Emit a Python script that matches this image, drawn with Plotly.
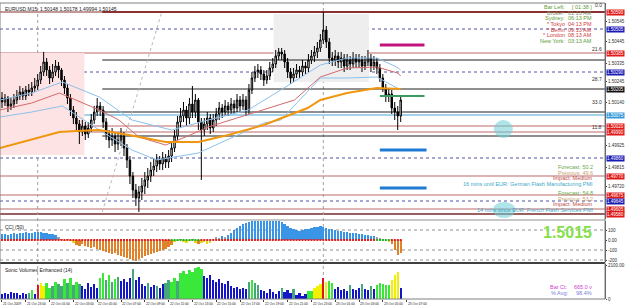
import plotly.graph_objects as go

# ---------------- DATA ----------------
x_labels = ["21 Oct 2009", "21 Oct 23:00", "22 Oct 01:00", "22 Oct 03:00", "22 Oct 05:00",
            "22 Oct 07:00", "22 Oct 09:00", "22 Oct 11:00", "22 Oct 13:00", "22 Oct 15:00",
            "22 Oct 17:00", "22 Oct 19:00", "22 Oct 21:00", "22 Oct 23:00", "23 Oct 01:00",
            "23 Oct 03:00", "23 Oct 05:00", "23 Oct 07:00"]

price_ticks = [1.50545, 1.50445, 1.50335, 1.50245, 1.50140, 1.49925, 1.49815, 1.49720]

open_ = [1.5016,1.5014,1.5016,1.5012,1.5013,1.5015,1.5017,1.5019,1.5017,1.5020,
         1.5019,1.5021,1.5022,1.5025,1.5029,1.5034,1.5030,1.5026,1.5029,1.5032,
         1.5030,1.5025,1.5021,1.5016,1.5010,1.5006,1.5003,1.4999,1.5002,1.4998,
         1.5001,1.5005,1.5009,1.5012,1.5010,1.5004,1.4998,1.4995,1.4997,1.4993,
         1.4995,1.4997,1.4991,1.4985,1.4977,1.4970,1.4966,1.4969,1.4972,1.4975,
         1.4977,1.4980,1.4982,1.4985,1.4983,1.4986,1.4984,1.4987,1.4991,1.4997,
         1.5004,1.5007,1.5010,1.5006,1.5013,1.5009,1.5015,1.5004,1.5000,1.5003,
         1.5006,1.5001,1.5005,1.5008,1.5011,1.5009,1.5012,1.5010,1.5013,1.5011,
         1.5015,1.5012,1.5015,1.5010,1.5020,1.5026,1.5029,1.5030,1.5028,1.5025,
         1.5027,1.5031,1.5033,1.5037,1.5039,1.5038,1.5034,1.5029,1.5026,1.5028,
         1.5030,1.5029,1.5032,1.5031,1.5035,1.5037,1.5039,1.5041,1.5045,1.5050,
         1.5044,1.5036,1.5035,1.5037,1.5034,1.5036,1.5032,1.5035,1.5033,1.5036,
         1.5034,1.5035,1.5032,1.5034,1.5036,1.5032,1.5034,1.5031,1.5026,1.5021,
         1.5017,1.5018,1.5011,1.5009,1.5007]
close = [1.5014,1.5016,1.5012,1.5013,1.5015,1.5017,1.5019,1.5017,1.5020,1.5019,
         1.5021,1.5022,1.5025,1.5029,1.5034,1.5030,1.5026,1.5029,1.5032,1.5030,
         1.5025,1.5021,1.5016,1.5010,1.5006,1.5003,1.4999,1.5002,1.4998,1.5001,
         1.5005,1.5009,1.5012,1.5010,1.5004,1.4998,1.4995,1.4997,1.4993,1.4995,
         1.4997,1.4991,1.4985,1.4977,1.4970,1.4966,1.4969,1.4972,1.4975,1.4977,
         1.4980,1.4982,1.4985,1.4983,1.4986,1.4984,1.4987,1.4991,1.4997,1.5004,
         1.5007,1.5010,1.5006,1.5013,1.5009,1.5015,1.5004,1.5000,1.5003,1.5006,
         1.5001,1.5005,1.5008,1.5011,1.5009,1.5012,1.5010,1.5013,1.5011,1.5015,
         1.5012,1.5015,1.5010,1.5020,1.5026,1.5029,1.5030,1.5028,1.5025,1.5027,
         1.5031,1.5033,1.5037,1.5039,1.5038,1.5034,1.5029,1.5026,1.5028,1.5030,
         1.5029,1.5032,1.5031,1.5035,1.5037,1.5039,1.5041,1.5045,1.5050,1.5044,
         1.5036,1.5035,1.5037,1.5034,1.5036,1.5032,1.5035,1.5033,1.5036,1.5034,
         1.5035,1.5032,1.5034,1.5036,1.5032,1.5034,1.5031,1.5026,1.5021,1.5017,
         1.5018,1.5011,1.5009,1.5007,1.5015]
high = [1.5019,1.5018,1.5017,1.5016,1.5018,1.5020,1.5022,1.5021,1.5022,1.5023,
        1.5024,1.5026,1.5028,1.5032,1.5039,1.5036,1.5032,1.5033,1.5035,1.5034,
        1.5031,1.5027,1.5023,1.5018,1.5012,1.5009,1.5005,1.5005,1.5004,1.5004,
        1.5008,1.5012,1.5016,1.5014,1.5012,1.5006,1.5000,1.5001,1.4999,1.4999,
        1.5001,1.4999,1.4993,1.4987,1.4979,1.4973,1.4972,1.4976,1.4979,1.4981,
        1.4984,1.4986,1.4988,1.4987,1.4989,1.4988,1.4990,1.4994,1.5000,1.5007,
        1.5011,1.5014,1.5012,1.5016,1.5022,1.5018,1.5016,1.5006,1.5006,1.5009,
        1.5008,1.5008,1.5011,1.5014,1.5013,1.5015,1.5014,1.5016,1.5015,1.5018,
        1.5017,1.5018,1.5017,1.5023,1.5029,1.5032,1.5033,1.5032,1.5030,1.5030,
        1.5034,1.5036,1.5040,1.5041,1.5041,1.5040,1.5036,1.5031,1.5031,1.5033,
        1.5032,1.5035,1.5034,1.5038,1.5040,1.5042,1.5044,1.5048,1.5059,1.5052,
        1.5046,1.5039,1.5040,1.5039,1.5039,1.5038,1.5038,1.5037,1.5039,1.5038,
        1.5038,1.5037,1.5037,1.5040,1.5038,1.5037,1.5036,1.5033,1.5028,1.5023,
        1.5021,1.5020,1.5014,1.5012,1.5017]
low = [1.5011,1.5012,1.5009,1.5010,1.5011,1.5013,1.5015,1.5015,1.5015,1.5017,
       1.5017,1.5019,1.5020,1.5023,1.5027,1.5027,1.5023,1.5024,1.5027,1.5026,
       1.5022,1.5018,1.5013,1.5007,1.5003,1.5000,1.4993,1.4997,1.4995,1.4996,
       1.4999,1.5003,1.5007,1.5007,1.5001,1.4995,1.4991,1.4992,1.4989,1.4990,
       1.4992,1.4987,1.4981,1.4973,1.4966,1.4962,1.4959,1.4965,1.4968,1.4971,
       1.4974,1.4977,1.4979,1.4980,1.4980,1.4981,1.4981,1.4984,1.4989,1.4995,
       1.5001,1.5004,1.5002,1.5003,1.5006,1.5006,1.5000,1.4975,1.4997,1.5000,
       1.4998,1.4999,1.5002,1.5005,1.5006,1.5007,1.5007,1.5008,1.5008,1.5009,
       1.5009,1.5010,1.5007,1.5008,1.5018,1.5024,1.5026,1.5025,1.5022,1.5023,
       1.5025,1.5029,1.5031,1.5035,1.5035,1.5031,1.5026,1.5023,1.5024,1.5026,
       1.5026,1.5027,1.5028,1.5029,1.5033,1.5034,1.5036,1.5039,1.5043,1.5041,
       1.5033,1.5032,1.5032,1.5031,1.5031,1.5029,1.5030,1.5030,1.5031,1.5031,
       1.5031,1.5029,1.5030,1.5032,1.5029,1.5030,1.5028,1.5024,1.5019,1.5014,
       1.5014,1.5008,1.5005,1.5000,1.5004]

cci = [60,65,55,60,70,65,75,70,80,75, 70,80,85,80,75,70,65,60,50,35,
       10,-5,5,-10,-30,-50,-60,-40,-60,-70, -80,-70,-90,-100,-110,-120,-130,-140,-130,-150,
       -160,-170,-180,-190,-200,-205,-190,-175,-160,-150, -140,-130,-120,-110,-100,-90,-70,-50,-20,-10,
       5,-15,-30,-10,5,-25,-40,-30,-20,-35, -25,10,30,20,40,30,50,70,100,120,
       140,160,170,180,190,195,200,200,195,190, 195,200,200,195,180,160,140,120,110,100,
       95,100,110,115,120,130,135,140,130,120, 115,110,100,95,90,85,80,75,70,70,
       65,60,55,50,45,40,30,15,5,-10, -20,-40,-100,-150,-130]

volume = [300,360,300,420,360,360,240,360,300,360,
          540,300,900,1020,840,1020,720,840,1080,960,
          840,1260,1020,1320,900,1080,960,840,660,1020,
          780,960,720,1320,1620,1200,1500,1080,1260,1380,
          1140,1260,1080,1320,1860,1200,1380,960,840,1020,
          780,900,840,720,960,1020,1200,1080,1320,1140,
          1620,1740,1560,1800,1680,1920,2040,1860,1440,1320,
          1500,1200,1080,1260,1020,960,1140,840,720,780,
          600,720,660,1080,1200,1020,900,540,480,360,
          600,420,300,480,720,420,540,360,600,240,
          360,180,300,480,480,720,840,960,1320,1080,
          1140,1020,600,780,540,660,480,900,600,540,
          720,960,600,540,840,660,900,1020,960,900,
          900,1200,1500,1680,665]
volume_class = list("BBBBBBBBBTGBRYYGGTGTTGTGTGTBBBBBBGGTGTGTBBBBTBBBBTBBTBBTTGGT"
                    "GGGGGGGGBBBBBBBBBBBBBBBTGTTBBBBBBBTBBBTBBBBGGYYYRYGGBBBBBTBB"
                    "BTBBTBGGGGGYYYB")

# moving averages read at sample bars (bar index, price)
ma_orange_x = [-0.7, 19.3, 25, 32.7, 42.7, 55, 66, 76, 88, 102.7, 107, 116, 126, 134]
ma_orange_y = [1.4991, 1.4999, 1.49995, 1.5000, 1.49975, 1.4994, 1.4994, 1.49975, 1.50025,
               1.5011, 1.5015, 1.50185, 1.5021, 1.50205]
ma_red_x = [-0.7, 10, 19.3, 25, 32.7, 39.3, 46, 55, 61.7, 69.3, 88, 98.3, 107, 116, 126, 133, 134]
ma_red_y = [1.5010, 1.50135, 1.50185, 1.5015, 1.5010, 1.5005, 1.49965, 1.49925, 1.49965,
            1.50015, 1.5010, 1.5015, 1.50265, 1.5031, 1.50315, 1.50285, 1.5027]
band_up_x = [-0.7, 10, 20.3, 32.7, 43.7, 57, 69.3, 82.7, 93.7, 107, 116, 126, 132.7, 134]
band_up_y = [1.5015, 1.50185, 1.5024, 1.50165, 1.5005, 1.5000, 1.5005, 1.5010, 1.5020,
             1.50325, 1.5036, 1.5036, 1.50315, 1.5030]
band_dn_x = [-0.7, 10, 20.3, 32.7, 43.7, 52, 66, 88, 93.7, 107, 116, 126, 134]
band_dn_y = [1.50065, 1.5009, 1.5012, 1.5000, 1.4990, 1.4985, 1.49885, 1.50035, 1.5005,
             1.5026, 1.5026, 1.50265, 1.5020]

# horizontal levels
pivot_levels = [1.50505, 1.5029, 1.4986, 1.49645]
pink_levels = [1.50385, 1.5002, 1.4999, 1.4977, 1.49675, 1.49605]
darkred_levels = [1.5059, 1.4958]
black_levels = [1.5035, 1.50205, 1.5009, 1.4997]
bid_level = 1.50075
level_tags = {"21.6": 1.5038, "28.7": 1.5023, "33.0": 1.50115, "11.8": 1.4999, "0.0": 1.5060}

clock_labels = ["Bar Left:", "Broker:", "Sydney:", "* Tokyo", "* Berlin", "* London", "New York:"]
clock_values = ["[ 01:38 ]", "01:13 AM", "06:13 PM", "04:13 PM", "09:13 AM", "08:13 AM", "03:13 AM"]

news_lines = ["Forecast: 50.2", "Previous: 49.6", "Impact: Medium",
              "16 mins until EUR: German Flash Manufacturing PMI",
              "Forecast: 54.8", "Previous: 53.2", "Impact: Medium",
              "14 mins since EUR: French Flash Services PMI"]

# ---------------- LAYOUT HELPERS ----------------
W, H = 625, 308
ML, MR, MT, MB = 0, 15, 3, 9
PW = W - ML - MR
PH = H - MT - MB


def xp(px):
    return (px - ML) / PW


def yp(py):
    return (H - MB - py) / PH


FONT = "Liberation Sans"
n = len(close)
idx = list(range(n))

fig = go.Figure()

# ---------- main pane ----------
fig.add_trace(go.Scatter(x=band_up_x, y=band_up_y, mode="lines",
                         line=dict(color="#8cc0ec", width=1), hoverinfo="skip"))
fig.add_trace(go.Scatter(x=band_dn_x, y=band_dn_y, mode="lines",
                         line=dict(color="#8cc0ec", width=1), hoverinfo="skip"))
fig.add_trace(go.Scatter(x=ma_red_x, y=ma_red_y, mode="lines",
                         line=dict(color="#d46a6a", width=1), hoverinfo="skip"))
fig.add_trace(go.Scatter(x=ma_orange_x, y=ma_orange_y, mode="lines",
                         line=dict(color="#f0960f", width=2), hoverinfo="skip"))
fig.add_trace(go.Candlestick(
    x=idx, open=open_, high=high, low=low, close=close,
    increasing=dict(line=dict(color="#000000", width=1), fillcolor="#ffffff"),
    decreasing=dict(line=dict(color="#000000", width=1), fillcolor="#000000"),
    whiskerwidth=0, xaxis="x", yaxis="y", hoverinfo="skip"))

# ---------- CCI pane ----------
cci_colors = []
for v in cci:
    if v >= 40:
        cci_colors.append("#3a95e6")
    elif v <= -40:
        cci_colors.append("#e0822a")
    elif v >= 0:
        cci_colors.append("#a0a0a0")
    else:
        cci_colors.append("#e6d820")
fig.add_trace(go.Bar(x=idx, y=cci, marker=dict(color=cci_colors, line=dict(width=0)),
                     width=0.78, xaxis="x", yaxis="y2", hoverinfo="skip"))
dot_green = set(list(range(57, 67)) + list(range(126, 131)))
fig.add_trace(go.Scatter(x=idx, y=[0] * n, mode="markers", xaxis="x", yaxis="y2",
                         marker=dict(size=2, symbol="square",
                                     color=["#20b020" if i in dot_green else "#e02020" for i in idx]),
                         hoverinfo="skip"))

# ---------- volume pane ----------
vcol = {"B": "#1414c8", "T": "#46a878", "G": "#3ae83a", "Y": "#f2f000", "R": "#e01414"}
fig.add_trace(go.Bar(x=idx, y=volume, marker=dict(color=[vcol[c] for c in volume_class], line=dict(width=0)),
                     width=0.78, xaxis="x", yaxis="y3", hoverinfo="skip"))

shapes = []
ann = []

# background rectangles
shapes.append(dict(type="rect", xref="x", yref="y", x0=-0.7, x1=27.7, y0=1.49875, y1=1.50385,
                   fillcolor="#fde3e3", line=dict(width=0), layer="below"))
shapes.append(dict(type="rect", xref="x", yref="y", x0=91.3, x1=123.3, y0=1.5024, y1=1.5058,
                   fillcolor="#eeeeee", line=dict(width=0), layer="below"))

for lv in pivot_levels:
    shapes.append(dict(type="line", xref="paper", yref="y", x0=0, x1=1, y0=lv, y1=lv,
                       line=dict(color="#5050a8", width=1, dash="dot"), layer="below"))
for lv in pink_levels:
    shapes.append(dict(type="line", xref="paper", yref="y", x0=0, x1=1, y0=lv, y1=lv,
                       line=dict(color="#d29a9a", width=1.3), layer="below"))
shapes.append(dict(type="line", xref="paper", yref="y", x0=0, x1=1, y0=darkred_levels[0], y1=darkred_levels[0],
                   line=dict(color="#8a3030", width=1), layer="below"))
shapes.append(dict(type="line", xref="x", yref="y", x0=33.7, x1=203, y0=darkred_levels[0], y1=darkred_levels[0],
                   line=dict(color="#8a3030", width=2), layer="below"))
shapes.append(dict(type="line", xref="paper", yref="y", x0=0, x1=1, y0=darkred_levels[1], y1=darkred_levels[1],
                   line=dict(color="#7a2a2a", width=1.5), layer="below"))
for lv in black_levels:
    shapes.append(dict(type="line", xref="x", yref="y", x0=33.7, x1=203, y0=lv, y1=lv,
                       line=dict(color="#202020", width=1), layer="below"))
shapes.append(dict(type="line", xref="paper", yref="y", x0=0, x1=1, y0=bid_level, y1=bid_level,
                   line=dict(color="#4aa6d6", width=1.2), layer="below"))

# diagonal dotted trendline
shapes.append(dict(type="line", xref="x", yref="y", x0=33.7, x1=53.7, y0=1.4959, y1=1.5059,
                   line=dict(color="#b8b8b8", width=1, dash="dot"), layer="below"))
# day separators
for dx in [12, 108]:
    shapes.append(dict(type="line", xref="x", yref="paper", x0=dx, x1=dx, y0=0, y1=1,
                       line=dict(color="#a0a0a0", width=1, dash="dot"), layer="below"))

# short thick segments
shapes.append(dict(type="line", xref="x", yref="y", x0=127, x1=142, y0=1.50425, y1=1.50425,
                   line=dict(color="#c4127c", width=3)))
shapes.append(dict(type="line", xref="x", yref="y", x0=127, x1=142, y0=1.5017, y1=1.5017,
                   line=dict(color="#3c9a62", width=2)))
for lv in [1.4990, 1.4971]:
    shapes.append(dict(type="line", xref="x", yref="y", x0=127, x1=142.7, y0=lv, y1=lv,
                       line=dict(color="#1e7ad2", width=3)))
# news circles
shapes.append(dict(type="circle", xref="x", yref="y", x0=165.3, x1=171.7, y0=1.4996, y1=1.5005,
                   fillcolor="rgba(110,205,215,0.55)", line=dict(width=0)))
shapes.append(dict(type="circle", xref="x", yref="y", x0=165, x1=172.5, y0=1.4956, y1=1.4964,
                   fillcolor="rgba(110,205,215,0.55)", line=dict(width=0)))

# CCI level lines
for lv in [100, -100, -200]:
    shapes.append(dict(type="line", xref="paper", yref="y2", x0=0, x1=1, y0=lv, y1=lv,
                       line=dict(color="#909090", width=1, dash="dot"), layer="below"))

# pane separators
shapes.append(dict(type="line", xref="paper", yref="paper", x0=0, x1=1, y0=yp(220), y1=yp(220),
                   line=dict(color="#909090", width=1)))
shapes.append(dict(type="line", xref="paper", yref="paper", x0=0, x1=1, y0=yp(263), y1=yp(263),
                   line=dict(color="#404040", width=2)))
# frame
shapes.append(dict(type="rect", xref="paper", yref="paper", x0=0, x1=1, y0=0, y1=1,
                   line=dict(color="#808080", width=1)))

# right price boxes
box_specs = [(darkred_levels[0], "#e01818"), (pink_levels[0], "#e01818"), (pink_levels[1], "#e01818"),
             (pink_levels[2], "#e01818"), (pink_levels[3], "#e01818"), (pink_levels[4], "#e01818"),
             (pink_levels[5], "#e01818"), (darkred_levels[1], "#e01818"),
             (pivot_levels[0], "#1a1ab4"), (pivot_levels[1], "#1a1ab4"), (pivot_levels[2], "#1a1ab4"),
             (pivot_levels[3], "#1a1ab4"), (black_levels[1], "#101010"), (bid_level, "#3a9ad9")]
for lv, col in box_specs:
    ann.append(dict(xref="paper", yref="y", x=1, y=lv, xanchor="left", yanchor="middle", xshift=1,
                    text="%.5f" % lv, showarrow=False, bgcolor=col, borderpad=0,
                    font=dict(family=FONT, size=4.5, color="white")))

for t, lv in level_tags.items():
    ann.append(dict(xref="paper", yref="y", x=1, y=lv, xanchor="right", yanchor="bottom", xshift=-1,
                    text=t, showarrow=False, font=dict(family=FONT, size=5, color="#303030")))

# header
ann.append(dict(xref="paper", yref="paper", x=xp(3), y=yp(4), xanchor="left", yanchor="top",
                text="EURUSD,M15  1.50148 1.50178 1.49994 1.50145", showarrow=False,
                font=dict(family=FONT, size=5, color="#202020")))

# clocks
clock_cols = ["#5e9a36", "#7a8a60", "#5e9a36", "#d23c3c", "#d23c3c", "#d23c3c", "#5e9a36"]
for k, (lab, val) in enumerate(zip(clock_labels, clock_values)):
    yy = 7 + k * 5.7
    ann.append(dict(xref="paper", yref="paper", x=xp(572), y=yp(yy), xanchor="right", yanchor="middle",
                    text=lab, showarrow=False, font=dict(family=FONT, size=5.5, color=clock_cols[k])))
    ann.append(dict(xref="paper", yref="paper", x=xp(599), y=yp(yy), xanchor="right", yanchor="middle",
                    text=val, showarrow=False, font=dict(family=FONT, size=5.5, color=clock_cols[k])))

# news
news_cols = ["#6aaa4a", "#c8a070", "#c04848", "#40a8c8"]
for k, t in enumerate(news_lines):
    yy = [167, 172.5, 178, 183.5, 193, 198.5, 204, 209.5][k]
    ann.append(dict(xref="paper", yref="paper", x=xp(600), y=yp(yy), xanchor="right", yanchor="middle",
                    text=t, showarrow=False, font=dict(family=FONT, size=5.5, color=news_cols[k % 4])))

# CCI labels
ann.append(dict(xref="paper", yref="paper", x=xp(3), y=yp(221.5), xanchor="left", yanchor="top",
                text="CCI (50)", showarrow=False, font=dict(family=FONT, size=5, color="#202020")))
ann.append(dict(xref="paper", yref="paper", x=xp(599), y=yp(233), xanchor="right", yanchor="middle",
                text="<b>1.5015</b>", showarrow=False, font=dict(family=FONT, size=16, color="#86e04a")))

# volume labels
ann.append(dict(xref="paper", yref="paper", x=xp(3), y=yp(264.5), xanchor="left", yanchor="top",
                text="Sonic Volumes Enhanced (14)", showarrow=False, font=dict(family=FONT, size=5, color="#202020")))
ann.append(dict(xref="paper", yref="paper", x=xp(575), y=yp(287), xanchor="right", yanchor="middle",
                text="Bar Ct:", showarrow=False, font=dict(family=FONT, size=5.5, color="#d040d0")))
ann.append(dict(xref="paper", yref="paper", x=xp(599), y=yp(287), xanchor="right", yanchor="middle",
                text="665.0 v", showarrow=False, font=dict(family=FONT, size=5.5, color="#d040d0")))
ann.append(dict(xref="paper", yref="paper", x=xp(575), y=yp(293), xanchor="right", yanchor="middle",
                text="% Avg:", showarrow=False, font=dict(family=FONT, size=5.5, color="#8080d8")))
ann.append(dict(xref="paper", yref="paper", x=xp(599), y=yp(293), xanchor="right", yanchor="middle",
                text="98.4%", showarrow=False, font=dict(family=FONT, size=5.5, color="#8080d8")))

# x labels
for k, lab in enumerate(x_labels):
    ann.append(dict(xref="x", yref="paper", x=8 * k - 0.3, y=0, xanchor="left", yanchor="top", yshift=-1,
                    text=lab, showarrow=False, font=dict(family=FONT, size=3.3, color="#202020")))

fig.update_layout(
    width=W, height=H, margin=dict(l=ML, r=MR, t=MT, b=MB),
    paper_bgcolor="white", plot_bgcolor="white", showlegend=False, bargap=0,
    xaxis=dict(domain=[0, 1], range=[-0.67, 202.67], anchor="y3", showgrid=False, zeroline=False,
               rangeslider=dict(visible=False), tickvals=[8 * k for k in range(len(x_labels))],
               ticks="outside", ticklen=2, tickcolor="#404040", showticklabels=False,
               showline=False),
    yaxis=dict(domain=[yp(219), 1], range=[1.49555, 1.50635], side="right", showgrid=False,
               zeroline=False, tickvals=price_ticks, ticktext=["%.5f" % v for v in price_ticks],
               ticks="outside", ticklen=1, tickfont=dict(family=FONT, size=4.5, color="#303030"),
               showline=True, linecolor="#505050", linewidth=1),
    yaxis2=dict(domain=[yp(262), yp(221)], range=[-220, 190], side="right", anchor="x", showgrid=False,
                zeroline=False, tickvals=[100, 0, -100, -200], ticktext=["100", "0.00", "-100", "-200"],
                ticks="outside", ticklen=1, tickfont=dict(family=FONT, size=4.5, color="#303030"),
                showline=True, linecolor="#505050", linewidth=1),
    yaxis3=dict(domain=[0, yp(264)], range=[0, 2200], side="right", anchor="x", showgrid=False,
                zeroline=False, tickvals=[2100, 0], ticktext=["2100.00", "0"], ticks="outside", ticklen=1,
                tickfont=dict(family=FONT, size=4.5, color="#303030"),
                showline=True, linecolor="#505050", linewidth=1),
    shapes=shapes, annotations=ann,
)

fig.write_html("out.html", config={"displayModeBar": False})
